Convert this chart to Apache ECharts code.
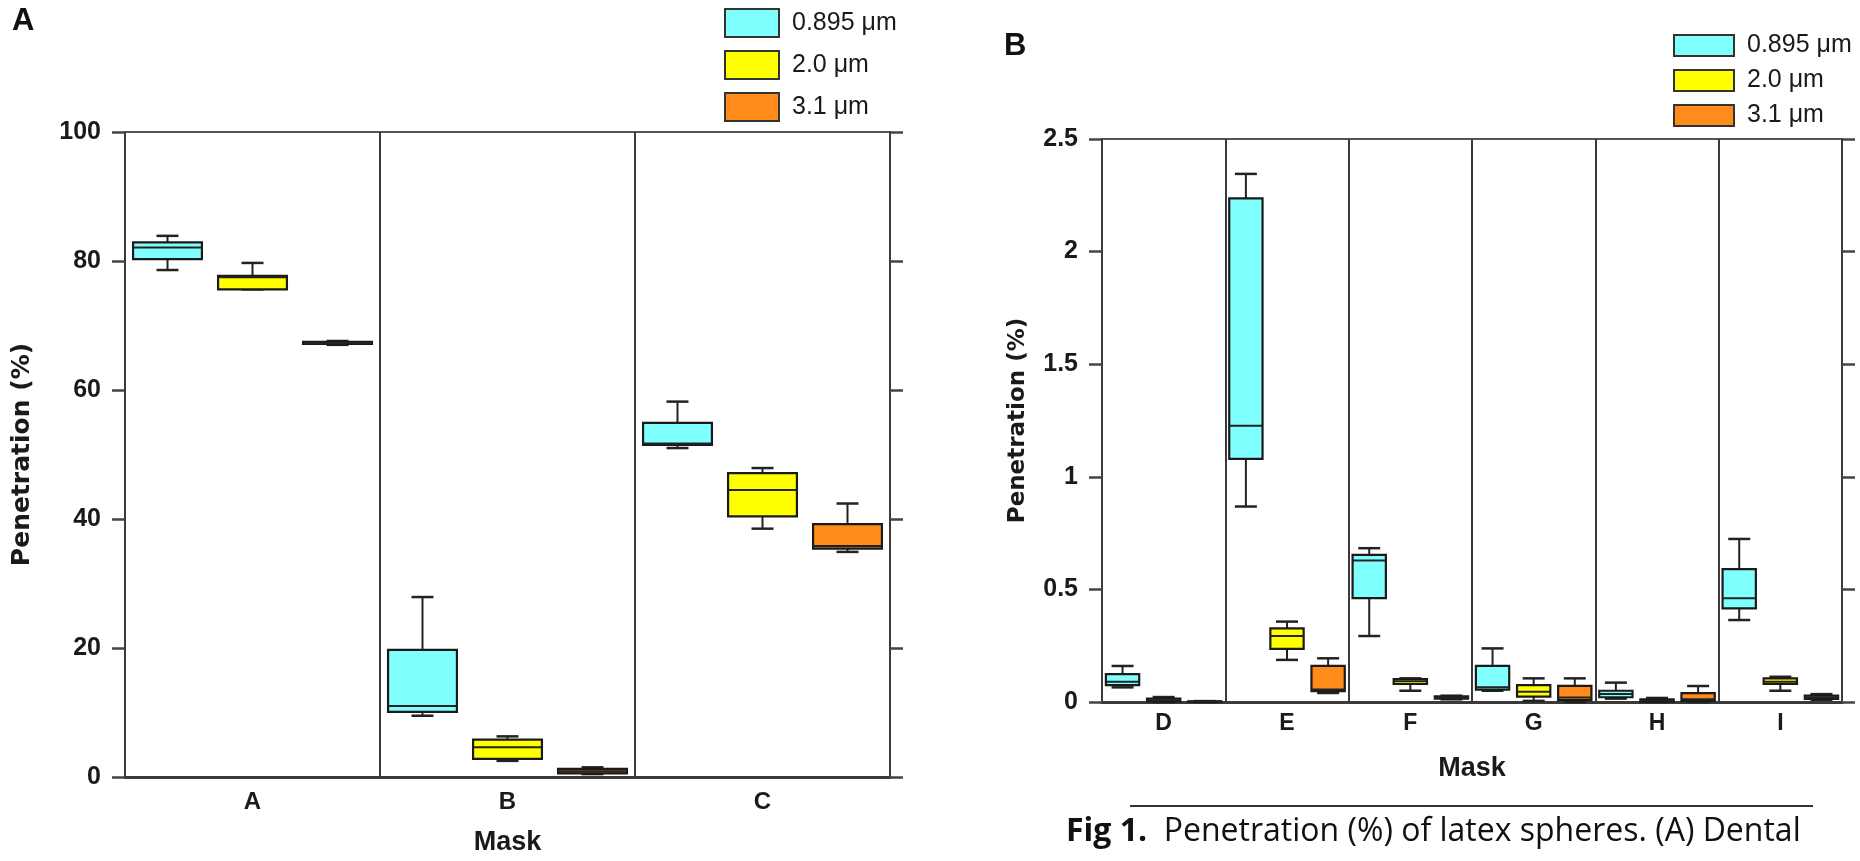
<!DOCTYPE html>
<html>
<head>
<meta charset="utf-8">
<title>Penetration (%) of latex spheres</title>
<script src="https://cdn.jsdelivr.net/npm/echarts@6/dist/echarts.min.js"></script>
<style>
	html, body { margin: 0; padding: 0; background: #fff; }
	#main { width: 1860px; height: 861px; }
</style>
</head>
<body>
<div id="main"></div>
<script>
// masks on the two panels
var masksA = ['A', 'B', 'C'];
var masksB = ['D', 'E', 'F', 'G', 'H', 'I'];
var sizeNames = ['0.895 μm', '2.0 μm', '3.1 μm'];
var sizeColors = ['#80FFFF', '#FFFF00', '#FF8C1A'];

// every box is [min, q1, median, q3, max], one per mask
var a0895 = [[78.6, 80.3, 82.1, 82.9, 83.9], [9.5, 10.1, 11.0, 19.7, 27.9], [51.0, 51.5, 51.7, 54.9, 58.2]];
var a20 = [[75.6, 75.6, 77.5, 77.7, 79.7], [2.5, 2.8, 4.6, 5.8, 6.3], [38.5, 40.4, 44.5, 47.1, 47.9]];
var a31 = [[67.0, 67.15, 67.3, 67.45, 67.6], [0.45, 0.55, 0.9, 1.25, 1.5], [34.9, 35.4, 35.8, 39.2, 42.4]];

var b0895 = [[0.065, 0.075, 0.09, 0.124, 0.16], [0.868, 1.08, 1.227, 2.236, 2.345], [0.293, 0.461, 0.628, 0.653, 0.683],
	[0.05, 0.055, 0.065, 0.16, 0.238], [0.015, 0.021, 0.036, 0.05, 0.086], [0.364, 0.416, 0.461, 0.59, 0.724]];
var b20 = [[0, 0.003, 0.008, 0.015, 0.022], [0.187, 0.236, 0.293, 0.327, 0.357], [0.05, 0.08, 0.092, 0.102, 0.105],
	[0.005, 0.024, 0.045, 0.075, 0.105], [0, 0.002, 0.006, 0.012, 0.018], [0.05, 0.08, 0.09, 0.105, 0.112]];
var b31 = [[0, 0.001, 0.002, 0.003, 0.004], [0.04, 0.048, 0.055, 0.16, 0.194], [0.012, 0.015, 0.02, 0.025, 0.028],
	[0, 0.008, 0.02, 0.072, 0.105], [0, 0.005, 0.012, 0.039, 0.071], [0.01, 0.014, 0.02, 0.028, 0.035]];

// y axis ticks
var yTicksA = [0, 20, 40, 60, 80, 100];
var yTicksB = [0, 0.5, 1, 1.5, 2, 2.5];

var chart = echarts.init(document.getElementById('main'));
var lineColor = '#3a3a3a';
var labelFont = 'Liberation Sans, Arial, sans-serif';

function toRows(list) {
	var rows = [];
	for(var i = 0; i < list.length; i++) {
		rows.push([i].concat(list[i]));
	}
	return rows;
}

// draws one box with whiskers, shifted inside the band of its mask
function boxRender(shift, color) {
	return function(params, api) {
		var i = api.value(0);
		var band = api.size([1, 0])[0];
		var cx = api.coord([i, 0])[0] + band * shift;
		var half = band * 0.135;
		var cap = 11;
		var yMin = api.coord([i, api.value(1)])[1];
		var yQ1 = api.coord([i, api.value(2)])[1];
		var yMed = api.coord([i, api.value(3)])[1];
		var yQ3 = api.coord([i, api.value(4)])[1];
		var yMax = api.coord([i, api.value(5)])[1];
		var lineStyle = { stroke: '#222', lineWidth: 2 };
		return {
			type: 'group',
			children: [
				{ type: 'line', shape: { x1: cx, y1: yMax, x2: cx, y2: yQ3 }, style: lineStyle },
				{ type: 'line', shape: { x1: cx - cap, y1: yMax, x2: cx + cap, y2: yMax }, style: { stroke: '#222', lineWidth: 2.5 } },
				{ type: 'line', shape: { x1: cx, y1: yQ1, x2: cx, y2: yMin }, style: lineStyle },
				{ type: 'line', shape: { x1: cx - cap, y1: yMin, x2: cx + cap, y2: yMin }, style: { stroke: '#222', lineWidth: 2.5 } },
				{ type: 'rect', shape: { x: cx - half, y: yQ3, width: half * 2, height: yQ1 - yQ3 }, style: { fill: color, stroke: '#1a1a1a', lineWidth: 2.2 } },
				{ type: 'line', shape: { x1: cx - half, y1: yMed, x2: cx + half, y2: yMed }, style: lineStyle }
			]
		};
	};
}

function makeSeries(name, k, list, xIdx, yIdx) {
	return {
		name: name,
		type: 'custom',
		xAxisIndex: xIdx,
		yAxisIndex: yIdx,
		itemStyle: { color: sizeColors[k] },
		encode: { x: 0, y: [1, 2, 3, 4, 5] },
		renderItem: boxRender((k - 1) / 3, sizeColors[k]),
		data: toRows(list),
		silent: true
	};
}

function valueAxis(grid, ticks, pos, showLabel, name, gap, nameSize) {
	return {
		type: 'value',
		gridIndex: grid,
		position: pos,
		min: ticks[0],
		max: ticks[ticks.length - 1],
		interval: ticks[1] - ticks[0],
		name: name,
		nameLocation: 'middle',
		nameGap: gap,
		nameRotate: 90,
		nameTextStyle: { fontFamily: 'DejaVu Sans', fontWeight: 'bold', fontSize: nameSize, color: '#1a1a1a' },
		axisLine: { show: true, lineStyle: { color: lineColor, width: 2 } },
		axisTick: { show: true, inside: false, length: 13, lineStyle: { color: '#444', width: 2.5 } },
		axisLabel: { show: showLabel, margin: 24, fontFamily: labelFont, fontWeight: 'bold', fontSize: 25, color: '#1a1a1a' },
		splitLine: { show: false }
	};
}

function catAxis(grid, data, gap, labelSize, nameSize, margin) {
	return {
		type: 'category',
		gridIndex: grid,
		data: data,
		name: 'Mask',
		nameLocation: 'middle',
		nameGap: gap,
		nameTextStyle: { fontFamily: labelFont, fontWeight: 'bold', fontSize: nameSize, color: '#1a1a1a' },
		axisLine: { show: true, lineStyle: { color: lineColor, width: 3 } },
		axisTick: { show: false },
		axisLabel: { margin: margin, fontFamily: labelFont, fontWeight: 'bold', fontSize: labelSize, color: '#1a1a1a' },
		splitLine: { show: true, lineStyle: { color: lineColor, width: 2 } }
	};
}

function legendOf(left, top, w, h, gap, size) {
	var items = [];
	for(var k = 0; k < sizeNames.length; k++) {
		items.push({ name: sizeNames[k], itemStyle: { borderColor: '#333', borderWidth: 2 } });
	}
	return {
		left: left,
		top: top,
		orient: 'vertical',
		icon: 'rect',
		itemWidth: w,
		itemHeight: h,
		itemGap: gap,
		selectedMode: false,
		data: items,
		textStyle: { fontFamily: labelFont, fontSize: size, color: '#1a1a1a', padding: [0, 0, 0, 8] }
	};
}

var option = {
	backgroundColor: '#ffffff',
	animation: false,
	legend: [legendOf(719, 3, 54, 28, 12, 25), legendOf(1668, 28, 60, 21, 10, 25)],
	grid: [
		{ left: 125, top: 132, width: 765, height: 646, show: true, borderColor: '#555', borderWidth: 2 },
		{ left: 1102, top: 139, width: 740, height: 563, show: true, borderColor: '#555', borderWidth: 2 }
	],
	xAxis: [catAxis(0, masksA, 52, 24, 27, 13), catAxis(1, masksB, 53, 23, 27, 10)],
	yAxis: [
		valueAxis(0, yTicksA, 'left', true, 'Penetration (%)', 90, 25),
		valueAxis(0, yTicksA, 'right', false, '', 0, 10),
		valueAxis(1, yTicksB, 'left', true, 'Penetration (%)', 72, 23),
		valueAxis(1, yTicksB, 'right', false, '', 0, 10)
	],
	series: [
		makeSeries(sizeNames[0], 0, a0895, 0, 0),
		makeSeries(sizeNames[1], 1, a20, 0, 0),
		makeSeries(sizeNames[2], 2, a31, 0, 0),
		makeSeries(sizeNames[0], 0, b0895, 1, 2),
		makeSeries(sizeNames[1], 1, b20, 1, 2),
		makeSeries(sizeNames[2], 2, b31, 1, 2)
	],
	graphic: [
		{ type: 'text', left: 12, top: 6, style: { text: 'A', font: 'bold 31px ' + labelFont, fill: '#111' } },
		{ type: 'text', left: 1004, top: 31, style: { text: 'B', font: 'bold 31px ' + labelFont, fill: '#111' } },
		{ type: 'line', shape: { x1: 1130, y1: 806, x2: 1813, y2: 806 }, style: { stroke: '#333', lineWidth: 2 } },
		{
			type: 'text',
			left: 1066,
			top: 816,
			style: {
				text: '{b|Fig 1.}  Penetration (%) of latex spheres. (A) Dental',
				font: '32px "Open Sans", sans-serif',
				fill: '#111',
				rich: { b: { fontFamily: 'Open Sans', fontWeight: 'bold', fontSize: 32, fill: '#111' } }
			}
		}
	]
};

chart.setOption(option);
</script>
</body>
</html>
